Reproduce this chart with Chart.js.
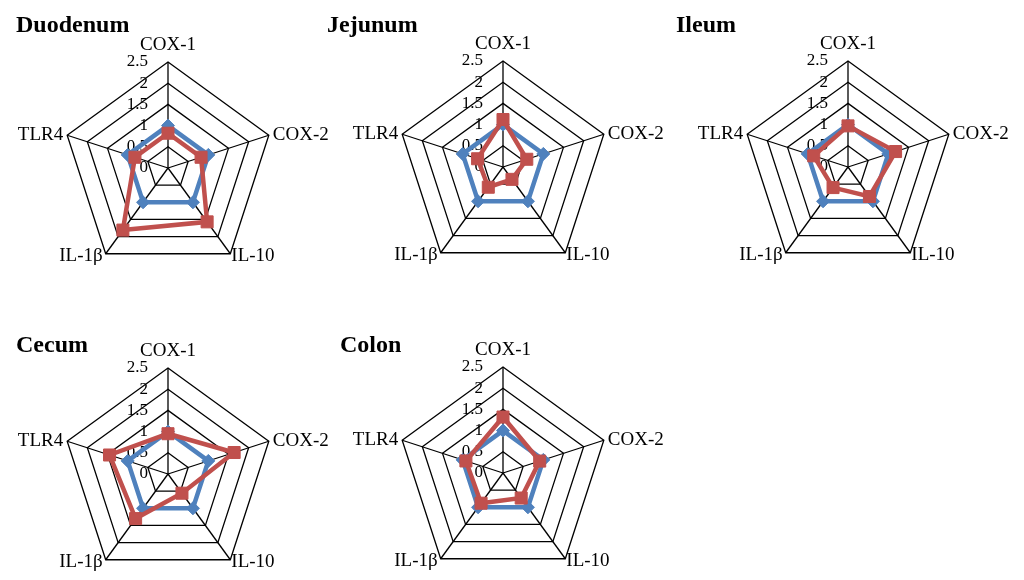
<!DOCTYPE html>
<html><head><meta charset="utf-8">
<script src="https://cdn.jsdelivr.net/npm/chart.js@4"></script>
<style>
html,body{margin:0;padding:0;background:#fff;overflow:hidden;width:1024px;height:580px;position:relative;}
canvas.panel{position:absolute;}
</style></head><body>
<script>
// ---- data ----
const categories = ['COX-1','COX-2','IL-10','IL-1β','TLR4'];
const panelNames = ['Duodenum','Jejunum','Ileum','Cecum','Colon'];
const tickValues = [0,0.5,1,1.5,2,2.5];
const tickLabels = ['0','0.5','1','1.5','2','2.5'];
const duodenumControl = [1,1,1,1,1];
const duodenumTreated = [0.82,0.82,1.57,1.81,0.82];
const jejunumControl = [1,1,1,1,1];
const jejunumTreated = [1.12,0.59,0.36,0.59,0.63];
const ileumControl = [1,1,1,1,1];
const ileumTreated = [0.97,1.18,0.86,0.60,0.85];
const cecumControl = [1,1,1,1,1];
const cecumTreated = [0.95,1.64,0.56,1.30,1.45];
const colonControl = [1,1,1,1,1];
const colonTreated = [1.32,0.91,0.73,0.88,0.92];

const controlSeries = [duodenumControl, jejunumControl, ileumControl, cecumControl, colonControl];
const treatedSeries = [duodenumTreated, jejunumTreated, ileumTreated, cecumTreated, colonTreated];

// ---- layout (positions only) ----
const R = 106;
const layout = [
  {left:0,   top:0,   width:335, height:315, cx:168, cy:168, tx:16,  ty:32},
  {left:320, top:0,   width:350, height:315, cx:503, cy:167, tx:327, ty:32},
  {left:670, top:0,   width:354, height:315, cx:848, cy:167, tx:676, ty:32},
  {left:0,   top:315, width:335, height:265, cx:168, cy:474, tx:16,  ty:352},
  {left:320, top:315, width:350, height:265, cx:503, cy:473, tx:340, ty:352}
];
const FONT = '"Liberation Serif","Times New Roman",serif';
const BLUE = '#4F81BD', RED = '#C0504D';

function makeDecor(idx) {
  const L = layout[idx];
  return {
    id: 'decor' + idx,
    beforeDatasetsDraw(chart) {
      const s = chart.scales.r, ctx = chart.ctx;
      ctx.save();
      ctx.font = '17px ' + FONT;
      ctx.fillStyle = '#000';
      ctx.textAlign = 'right';
      ctx.textBaseline = 'middle';
      tickValues.forEach((v, i) => {
        const p = s.getPointPositionForValue(0, v);
        ctx.fillText(tickLabels[i], p.x - 20, p.y);
      });
      ctx.restore();
    },
    afterDraw(chart) {
      const s = chart.scales.r, ctx = chart.ctx;
      ctx.save();
      ctx.font = '19px ' + FONT;
      ctx.fillStyle = '#000';
      ctx.textBaseline = 'middle';
      const max = tickValues[tickValues.length - 1];
      categories.forEach((c, i) => {
        const p = s.getPointPositionForValue(i, max);
        if (i === 0) { ctx.textAlign = 'center'; ctx.fillText(c, p.x, p.y - 17); }
        else if (i === 1) { ctx.textAlign = 'left'; ctx.fillText(c, p.x + 4, p.y); }
        else if (i === 2) { ctx.textAlign = 'left'; ctx.fillText(c, p.x + 1, p.y + 2); }
        else if (i === 3) { ctx.textAlign = 'right'; ctx.fillText(c, p.x - 3, p.y + 2); }
        else { ctx.textAlign = 'right'; ctx.fillText(c, p.x - 4, p.y); }
      });
      ctx.font = 'bold 24px ' + FONT;
      ctx.textAlign = 'left';
      ctx.textBaseline = 'alphabetic';
      ctx.fillText(panelNames[idx], L.tx - L.left, L.ty - L.top);
      ctx.restore();
    }
  };
}

panelNames.forEach((name, idx) => {
  const L = layout[idx];
  const cv = document.createElement('canvas');
  cv.className = 'panel';
  cv.width = L.width; cv.height = L.height;
  cv.style.left = L.left + 'px'; cv.style.top = L.top + 'px';
  cv.style.width = L.width + 'px'; cv.style.height = L.height + 'px';
  document.body.appendChild(cv);
  const lcx = L.cx - L.left, lcy = L.cy - L.top;
  new Chart(cv, {
    type: 'radar',
    data: {
      labels: categories,
      datasets: [
        { label: 'Treated', data: treatedSeries[idx], borderColor: RED, backgroundColor: RED,
          pointBackgroundColor: RED, pointBorderColor: RED, borderWidth: 4.5, fill: false,
          pointStyle: 'rect', pointRadius: 8.5, pointBorderWidth: 1, tension: 0 },
        { label: 'Control', data: controlSeries[idx], borderColor: BLUE, backgroundColor: BLUE,
          pointBackgroundColor: BLUE, pointBorderColor: BLUE, borderWidth: 4.5, fill: false,
          pointStyle: 'rectRot', pointRadius: 6.5, pointBorderWidth: 1, tension: 0 }
      ]
    },
    options: {
      responsive: false,
      animation: false,
      devicePixelRatio: 1,
      layout: { padding: { left: lcx - R, right: L.width - lcx - R, top: lcy - R, bottom: Math.max(0, L.height - lcy - R) } },
      plugins: { legend: { display: false }, tooltip: { enabled: false }, title: { display: false } },
      scales: {
        r: {
          min: 0, max: 2.5,
          ticks: { display: false, stepSize: 0.5 },
          pointLabels: { display: false },
          grid: { color: '#000', lineWidth: 1.3 },
          angleLines: { color: '#000', lineWidth: 1.3 }
        }
      }
    },
    plugins: [makeDecor(idx)]
  });
});
</script>
</body></html>
